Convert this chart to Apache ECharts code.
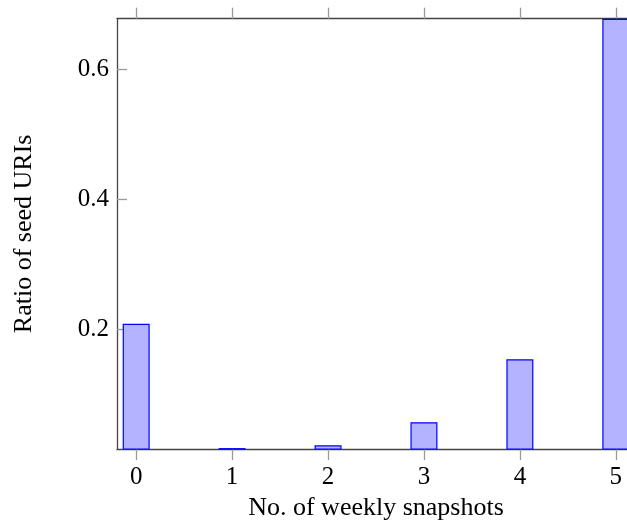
<!DOCTYPE html>
<html><head><meta charset="utf-8">
<script src="https://cdn.jsdelivr.net/npm/echarts@6/dist/echarts.min.js"></script>
<style>html,body{margin:0;padding:0;background:#fff}#c{width:627px;height:521px}</style>
</head><body><div id="c"></div>
<script>
const snapshots = [0, 1, 2, 3, 4, 5];
const ratios = [0.2086, 0.0172, 0.0215, 0.057, 0.1538, 0.678];
const yTicks = [0.2, 0.4, 0.6];
const xTicks = [0, 1, 2, 3, 4, 5];

const font = 'Liberation Serif';
const fs = 25;
const nfs = 26;
const chart = echarts.init(document.getElementById('c'), null, {renderer: 'canvas'});
chart.setOption({
  animation: false,
  grid: {left: 117, top: 18.7, width: 518, height: 430.3, containLabel: false, outerBoundsMode: 'none'},
  xAxis: [{
    type: 'value', min: -0.2, max: 5.2, position: 'bottom',
    name: 'No. of weekly snapshots', nameLocation: 'middle', nameGap: 44,
    nameTextStyle: {fontFamily: font, fontSize: nfs, color: '#000'},
    axisLine: {show: true, onZero: false, lineStyle: {color: '#444', width: 1.3}},
    axisTick: {show: true, length: 11, lineStyle: {color: '#999', width: 1.3}, customValues: xTicks},
    axisLabel: {show: true, fontFamily: font, fontSize: fs, color: '#000', margin: 16, customValues: xTicks},
    splitLine: {show: false}
  }, {
    type: 'value', min: -0.2, max: 5.2, position: 'top',
    axisLine: {show: true, onZero: false, lineStyle: {color: '#444', width: 1.3}},
    axisTick: {show: true, length: 11, lineStyle: {color: '#999', width: 1.3}, customValues: xTicks},
    axisLabel: {show: false},
    splitLine: {show: false}
  }],
  yAxis: {
    type: 'value', min: 0.0158, max: 0.678,
    name: 'Ratio of seed URIs', nameLocation: 'middle', nameGap: 80,
    nameTextStyle: {fontFamily: font, fontSize: nfs, color: '#000'},
    axisLine: {show: true, onZero: false, lineStyle: {color: '#444', width: 1.3}},
    axisTick: {show: true, inside: true, length: 10, lineStyle: {color: '#999', width: 1.3}, customValues: yTicks},
    axisLabel: {show: true, fontFamily: font, fontSize: fs, color: '#000', margin: 8, customValues: yTicks,
      formatter: v => String(Math.round(v * 10) / 10)},
    splitLine: {show: false}
  },
  series: [{
    type: 'bar',
    xAxisIndex: 0,
    data: snapshots.map((s, i) => [s, ratios[i]]),
    barWidth: 27,
    itemStyle: {color: '#b3b3ff', borderColor: '#0000ff', borderWidth: 1.2},
    emphasis: {disabled: true}
  }]
});
</script></body></html>
